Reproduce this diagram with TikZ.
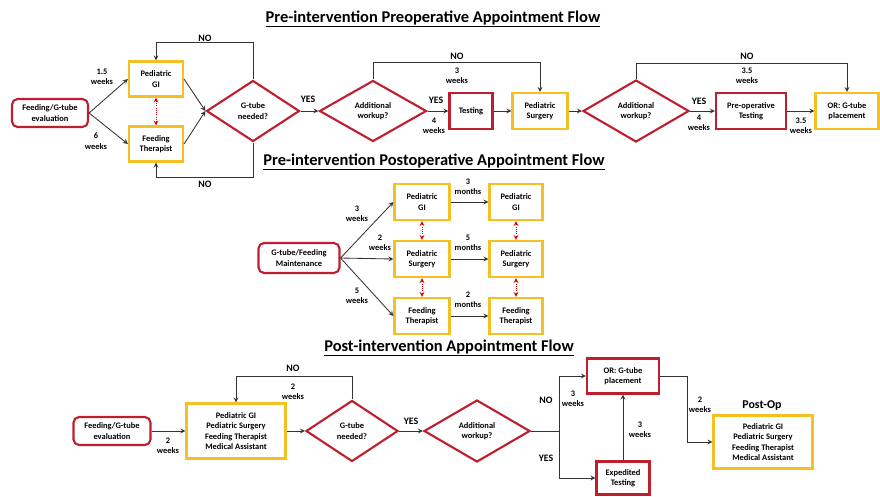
\documentclass[tikz,border=0pt]{standalone}
\usepackage{fontspec}
\setmainfont{Carlito}
\usetikzlibrary{arrows,shapes.geometric}

\definecolor{boxred}{RGB}{190,30,45}
\definecolor{boxyellow}{RGB}{245,192,35}

\tikzset{
  every node/.style={font=\bfseries\fontsize{6}{7.4}\selectfont, align=center},
  ybox/.style={draw=boxyellow, line width=1.5pt, inner sep=1pt},
  rbox/.style={draw=boxred, line width=1.5pt, inner sep=1pt},
  rround/.style={rbox, rounded corners=4pt},
  decision/.style={diamond, draw=boxred, line width=1.5pt, inner sep=0pt, aspect=1.5},
  wire/.style={line width=0.6pt, draw=black!80},
  link/.style={wire, ->},
  both/.style={<->, draw=red!85!black, densely dotted, line width=0.6pt},
  yesno/.style={font=\bfseries\fontsize{7}{8}\selectfont},
  heading/.style={font=\bfseries\fontsize{11.7}{14}\selectfont}
}

\begin{document}
\begin{tikzpicture}[x=0.025cm, y=-0.025cm, >=stealth]
	\useasboundingbox (0,0) rectangle (880,496);
	
	% preoperative flow
	\node [heading] (title-pre) at (433,19) {\underline{Pre-intervention Preoperative Appointment Flow}};
	
	\node [rround, minimum width=1.9cm, minimum height=0.7cm] (eval) at (50,113) {Feeding/G-tube\\evaluation};
	\node [ybox, minimum width=1.35cm, minimum height=0.875cm] (gi) at (156,79) {Pediatric\\GI};
	\node [ybox, minimum width=1.35cm, minimum height=0.875cm] (ft) at (156,144) {Feeding\\Therapist};
	\node [decision, minimum width=2.325cm, minimum height=1.525cm] (need) at (253,111) {G-tube\\needed?};
	\node [decision, minimum width=2.675cm, minimum height=1.525cm] (work) at (373,111) {Additional\\workup?};
	\node [rbox, minimum width=1.075cm, minimum height=0.9cm] (test) at (471,111) {Testing};
	\node [ybox, minimum width=1.375cm, minimum height=0.9cm] (surg) at (540,111) {Pediatric\\Surgery};
	\node [decision, minimum width=2.65cm, minimum height=1.55cm] (work2) at (636,111) {Additional\\workup?};
	\node [rbox, minimum width=1.75cm, minimum height=0.9cm] (preop) at (751,111) {Pre-operative\\Testing};
	\node [ybox, minimum width=1.575cm, minimum height=0.9cm] (or) at (847,111) {OR: G-tube\\placement};
	
	\draw [link] (eval.east) -- (gi.west);
	\draw [link] (eval.east) -- (ft.west);
	\draw [link] (gi.east) -- (need.west);
	\draw [link] (ft.east) -- (need.west);
	\draw [both] (gi) -- (ft);
	\draw [link] (need.north) -- ++(0,-37) -| (gi.north);
	\draw [link] (need.south) -- ++(0,35) -| (ft.south);
	\draw [link] (need.east) -- (work.west);
	\draw [link] (work.north) -- ++(0,-17) -| (surg.north);
	\draw [link] (work.east) -- (test.west);
	\draw [link] (test.east) -- (surg.west);
	\draw [link] (surg.east) -- (work2.west);
	\draw [link] (work2.north) -- ++(0,-16) -| (or.north);
	\draw [link] (work2.east) -- (preop.west);
	\draw [link] (preop.east) -- (or.west);
	
	\foreach \x/\y/\t in {102/77/{1.5\\weeks}, 96/141/{6\\weeks}, 457/76/{3\\weeks},
		434/126/{4\\weeks}, 747/76/{3.5\\weeks}, 699/123/{4\\weeks}, 801/126/{3.5\\weeks}}
	\node at (\x,\y) {\t};
	
	\foreach \x/\y/\t in {205/38/NO, 205/184/NO, 308/99/YES, 457/56/NO, 436/100/YES,
		747/56/NO, 699/101/YES}
	\node [yesno] at (\x,\y) {\t};
	
	% postoperative flow
	\node [heading] (title-post) at (434,162) {\underline{Pre-intervention Postoperative Appointment Flow}};
	
	\node [rround, minimum width=2.025cm, minimum height=0.75cm] (maint) at (299,258) {G-tube/Feeding\\Maintenance};
	
	\foreach \m/\t [count=\i] in {gi/{Pediatric\\GI}, surg/{Pediatric\\Surgery}, ft/{Feeding\\Therapist}}
	\node [ybox, minimum width=1.375cm, minimum height=0.9cm] (visit-\m) at (422,145+\i*57) {\t};
	
	\foreach \m/\t [count=\i] in {gi/{Pediatric\\GI}, surg/{Pediatric\\Surgery}, ft/{Feeding\\Therapist}}
	\node [ybox, minimum width=1.325cm, minimum height=0.9cm] (follow-\m) at (516,145+\i*57) {\t};
	
	\foreach \m in {gi,surg,ft} {
		\draw [link] (maint.east) -- (visit-\m.west);
		\draw [link] (visit-\m.east) -- (follow-\m.west);
	}
	
	\foreach \c in {visit,follow} {
		\draw [both] (\c-gi) -- (\c-surg);
		\draw [both] (\c-surg) -- (\c-ft);
	}
	
	\foreach \x/\y/\t in {357/214/{3\\weeks}, 380/243/{2\\weeks}, 357/296/{5\\weeks},
		468/187/{3\\months}, 468/243/{5\\months}, 468/300/{2\\months}}
	\node at (\x,\y) {\t};
	
	% post-intervention flow
	\node [heading] (title-after) at (449,348) {\underline{Post-intervention Appointment Flow}};
	
	\node [rround, minimum width=1.925cm, minimum height=0.7cm] (eval2) at (112,431) {Feeding/G-tube\\evaluation};
	\node [ybox, minimum width=2.475cm, minimum height=1.375cm] (team) at (236,431) {Pediatric GI\\Pediatric Surgery\\Feeding Therapist\\Medical Assistant};
	\node [decision, minimum width=2.3cm, minimum height=1.525cm] (need2) at (352,431) {G-tube\\needed?};
	\node [decision, minimum width=2.65cm, minimum height=1.55cm] (work3) at (477,431) {Additional\\workup?};
	\node [rbox, minimum width=1.8cm, minimum height=0.875cm] (or2) at (623,376) {OR: G-tube\\placement};
	\node [rbox, minimum width=1.325cm, minimum height=0.825cm] (exp) at (623,478) {Expedited\\Testing};
	\node [font=\bfseries\fontsize{8.5}{10}\selectfont] (postop) at (762,406) {Post-Op};
	\node [ybox, minimum width=2.475cm, minimum height=1.325cm] (care) at (763,442) {Pediatric GI\\Pediatric Surgery\\Feeding Therapist\\Medical Assistant};
	
	\draw [link] (eval2.east) -- (team.west);
	\draw [link] (team.east) -- (need2.west);
	\draw [link] (need2.north) -- ++(0,-23) -| (team.north);
	\draw [link] (need2.east) -- (work3.west);
	\draw [wire] (work3.east) -- ++(28,0) coordinate (split);
	\draw [link] (split) |- (or2.west);
	\draw [link] (split) |- (exp.west);
	\draw [link] (exp.north) -- (or2.south);
	\draw [link] (or2.east) -- ++(27,0) |- (care.west);
	
	\foreach \x/\y/\t in {168/446/{2\\weeks}, 293/392/{2\\weeks}, 573/399/{3\\weeks},
		640/430/{3\\weeks}, 700/405/{2\\weeks}}
	\node at (\x,\y) {\t};
	
	\foreach \x/\y/\t in {293/368/NO, 411/421/YES, 546/400/NO, 546/458/YES}
	\node [yesno] at (\x,\y) {\t};
	
\end{tikzpicture}
\end{document}
